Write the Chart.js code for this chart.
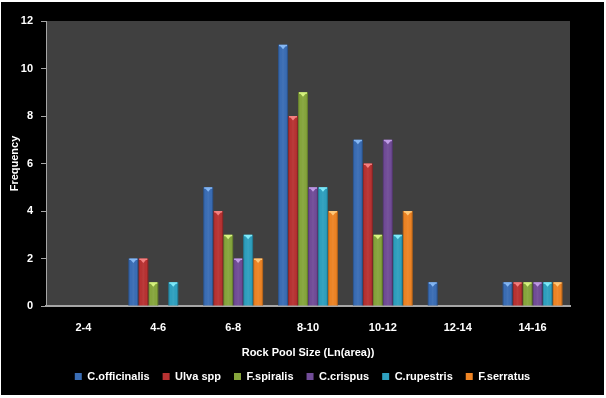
<!DOCTYPE html>
<html><head><meta charset="utf-8">
<script src="https://cdn.jsdelivr.net/npm/chart.js@4/dist/chart.umd.min.js"></script>
<style>
html,body{margin:0;padding:0;background:#fff;}
#wrap{position:absolute;left:1px;top:2px;width:603px;height:393px;background:#000;overflow:hidden;}
canvas{display:block;}
</style></head><body>
<div id="wrap"><canvas id="c" width="603" height="393"></canvas></div>
<script>
const categories = ['2-4','4-6','6-8','8-10','10-12','12-14','14-16'];
const seriesNames = ['C.officinalis','Ulva spp','F.spiralis','C.crispus','C.rupestris','F.serratus'];
const cOfficinalis = [0,2,5,11,7,1,1];
const ulvaSpp      = [0,2,4,8,6,0,1];
const fSpiralis    = [0,1,3,9,3,0,1];
const cCrispus     = [0,0,2,5,7,0,1];
const cRupestris   = [0,1,3,5,3,0,1];
const fSerratus    = [0,0,2,4,4,0,1];
const yTicks = [0,2,4,6,8,10,12];

const colors = ['#3a6db5','#b83232','#86a63c','#714c98','#2ea0bf','#ee8424'];
const tops   = ['#86b8f4','#f48080','#d8f480','#c09ce6','#80eafa','#ffc878'];
const values = [cOfficinalis,ulvaSpp,fSpiralis,cCrispus,cRupestris,fSerratus];

const barDeco = {
  id:'barDeco',
  afterDatasetsDraw(chart){
    const ctx = chart.ctx;
    chart.data.datasets.forEach((ds,i)=>{
      const meta = chart.getDatasetMeta(i);
      meta.data.forEach((bar,j)=>{
        if(!ds.data[j]) return;
        const w = bar.width, x0 = bar.x - w/2, y0 = bar.y, h = bar.base - bar.y;
        ctx.save();
        const g = ctx.createLinearGradient(x0,0,x0+w,0);
        g.addColorStop(0,'rgba(0,0,0,0.30)');
        g.addColorStop(0.18,'rgba(0,0,0,0.0)');
        g.addColorStop(0.5,'rgba(255,255,255,0.05)');
        g.addColorStop(0.82,'rgba(0,0,0,0.0)');
        g.addColorStop(1,'rgba(0,0,0,0.35)');
        ctx.fillStyle = g;
        ctx.fillRect(x0,y0,w,h);
        ctx.fillStyle = tops[i];
        ctx.fillRect(x0+1,y0,w-2,1.5);
        ctx.beginPath();
        ctx.moveTo(x0+2,y0+1);
        ctx.lineTo(x0+w-2,y0+1);
        ctx.lineTo(bar.x,y0+4.5);
        ctx.closePath();
        ctx.fill();
        ctx.restore();
      });
    });
  }
};

const bgPlug = {
  id:'bgPlug',
  beforeDraw(chart){
    const {ctx, chartArea:a} = chart;
    ctx.save();
    ctx.fillStyle = '#000';
    ctx.fillRect(0,0,chart.width,chart.height);
    ctx.fillStyle = '#404040';
    ctx.fillRect(a.left,a.top,a.right-a.left,a.bottom-a.top);
    ctx.restore();
  }
};

const FONT = "'Liberation Sans', Arial, sans-serif";

new Chart(document.getElementById('c'),{
  type:'bar',
  data:{
    labels:categories,
    datasets: seriesNames.map((n,i)=>({
      label:n, data:values[i], backgroundColor:colors[i], borderWidth:0,
      barPercentage:1.0, categoryPercentage:0.8
    }))
  },
  options:{
    responsive:false, animation:false,
    layout:{padding:{left:0,right:0,top:19,bottom:3}},
    plugins:{
      legend:{position:'bottom',
        labels:{color:'#fff',font:{family:FONT,size:11,weight:'bold'},boxWidth:7,boxHeight:7,padding:13,
          generateLabels(chart){
            return chart.data.datasets.map((d,i)=>({text:d.label,fillStyle:d.backgroundColor,strokeStyle:tops[i],lineWidth:0,fontColor:'#fff',datasetIndex:i}));
          }}},
      tooltip:{enabled:false}
    },
    scales:{
      x:{
        grid:{display:false,drawTicks:false},
        border:{color:'#a6a6a6',width:2},
        ticks:{color:'#fff',font:{family:FONT,size:11,weight:'bold'},padding:15},
        title:{display:true,text:'Rock Pool Size (Ln(area))',color:'#fff',font:{family:FONT,size:11,weight:'bold'},padding:{top:0,bottom:-2}},
        afterFit(s){ s.height = 52; }
      },
      y:{
        min:0,max:12,
        afterBuildTicks(s){ s.ticks = yTicks.map(v=>({value:v})); },
        grid:{display:true,drawOnChartArea:false,drawTicks:true,tickLength:5,color:'#a6a6a6',lineWidth:1},
        border:{color:'#a6a6a6',width:1},
        ticks:{color:'#fff',font:{family:FONT,size:11,weight:'bold'},padding:8},
        title:{display:true,text:'Frequency',color:'#fff',font:{family:FONT,size:11,weight:'bold'},padding:{top:7,bottom:4}},
        afterFit(s){ s.width = 45; }
      },
      yr:{
        position:'right', min:0, max:12,
        grid:{display:false,drawTicks:false},
        border:{display:false},
        ticks:{display:false},
        afterFit(s){ s.width = 34; }
      }
    }
  },
  plugins:[bgPlug,barDeco]
});
</script>
</body></html>
